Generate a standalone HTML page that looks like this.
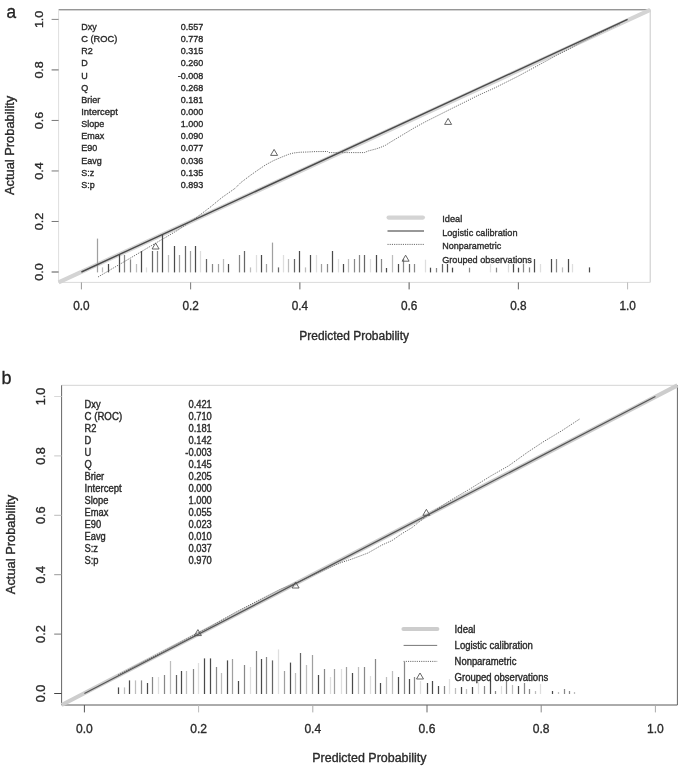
<!DOCTYPE html>
<html><head><meta charset="utf-8"><title>Calibration plots</title>
<style>
html,body{margin:0;padding:0;background:#fff;}
body{width:685px;height:768px;overflow:hidden;}
svg{display:block;filter:blur(0.3px);}
text{font-family:"Liberation Sans", sans-serif;stroke:#2a2a2a;stroke-width:0.35px;}
</style></head>
<body>
<svg width="685" height="768" viewBox="0 0 685 768">
<rect x="0" y="0" width="685" height="768" fill="#fff"/>
<line x1="58.60" y1="9.80" x2="650.20" y2="9.80" stroke="#6a6a6a" stroke-width="1"/>
<line x1="650.20" y1="9.80" x2="650.20" y2="282.40" stroke="#c8c8c8" stroke-width="1"/>
<line x1="58.60" y1="282.40" x2="650.20" y2="282.40" stroke="#dadada" stroke-width="1"/>
<line x1="58.60" y1="9.80" x2="58.60" y2="282.40" stroke="#dedede" stroke-width="1"/>
<line x1="58.60" y1="282.40" x2="650.20" y2="9.80" stroke="#d4d4d4" stroke-width="4.2"/>
<line x1="97.50" y1="272.40" x2="97.50" y2="238.60" stroke="#a0a0a0" stroke-width="1.25"/>
<line x1="102.50" y1="272.40" x2="102.50" y2="267.40" stroke="#bdbdbd" stroke-width="1.25"/>
<line x1="108.50" y1="272.40" x2="108.50" y2="264.00" stroke="#4a4a4a" stroke-width="1.25"/>
<line x1="119.50" y1="272.40" x2="119.50" y2="254.60" stroke="#4a4a4a" stroke-width="1.25"/>
<line x1="124.50" y1="272.40" x2="124.50" y2="255.00" stroke="#888" stroke-width="1.25"/>
<line x1="130.50" y1="272.40" x2="130.50" y2="259.40" stroke="#888" stroke-width="1.25"/>
<line x1="136.50" y1="272.40" x2="136.50" y2="264.00" stroke="#bdbdbd" stroke-width="1.25"/>
<line x1="141.50" y1="272.40" x2="141.50" y2="251.00" stroke="#4a4a4a" stroke-width="1.25"/>
<line x1="146.50" y1="272.40" x2="146.50" y2="267.40" stroke="#dedede" stroke-width="1.25"/>
<line x1="152.50" y1="272.40" x2="152.50" y2="251.00" stroke="#666" stroke-width="1.25"/>
<line x1="157.50" y1="272.40" x2="157.50" y2="251.00" stroke="#888" stroke-width="1.25"/>
<line x1="162.50" y1="272.40" x2="162.50" y2="234.00" stroke="#4a4a4a" stroke-width="1.25"/>
<line x1="168.50" y1="272.40" x2="168.50" y2="255.00" stroke="#bdbdbd" stroke-width="1.25"/>
<line x1="174.50" y1="272.40" x2="174.50" y2="246.00" stroke="#4a4a4a" stroke-width="1.25"/>
<line x1="179.50" y1="272.40" x2="179.50" y2="255.00" stroke="#a0a0a0" stroke-width="1.25"/>
<line x1="185.50" y1="272.40" x2="185.50" y2="246.00" stroke="#666" stroke-width="1.25"/>
<line x1="190.50" y1="272.40" x2="190.50" y2="251.00" stroke="#a0a0a0" stroke-width="1.25"/>
<line x1="195.50" y1="272.40" x2="195.50" y2="246.00" stroke="#4a4a4a" stroke-width="1.25"/>
<line x1="200.50" y1="272.40" x2="200.50" y2="251.00" stroke="#dedede" stroke-width="1.25"/>
<line x1="206.50" y1="272.40" x2="206.50" y2="259.00" stroke="#666" stroke-width="1.25"/>
<line x1="212.50" y1="272.40" x2="212.50" y2="264.00" stroke="#888" stroke-width="1.25"/>
<line x1="218.50" y1="272.40" x2="218.50" y2="264.00" stroke="#a0a0a0" stroke-width="1.25"/>
<line x1="223.50" y1="272.40" x2="223.50" y2="259.00" stroke="#bdbdbd" stroke-width="1.25"/>
<line x1="228.50" y1="272.40" x2="228.50" y2="264.00" stroke="#4a4a4a" stroke-width="1.25"/>
<line x1="239.50" y1="272.40" x2="239.50" y2="255.00" stroke="#888" stroke-width="1.25"/>
<line x1="244.50" y1="272.40" x2="244.50" y2="251.00" stroke="#666" stroke-width="1.25"/>
<line x1="250.50" y1="272.40" x2="250.50" y2="267.40" stroke="#bdbdbd" stroke-width="1.25"/>
<line x1="256.50" y1="272.40" x2="256.50" y2="255.00" stroke="#dedede" stroke-width="1.25"/>
<line x1="261.50" y1="272.40" x2="261.50" y2="255.00" stroke="#4a4a4a" stroke-width="1.25"/>
<line x1="266.50" y1="272.40" x2="266.50" y2="264.00" stroke="#a0a0a0" stroke-width="1.25"/>
<line x1="272.50" y1="272.40" x2="272.50" y2="242.60" stroke="#a0a0a0" stroke-width="1.25"/>
<line x1="278.50" y1="272.40" x2="278.50" y2="267.40" stroke="#666" stroke-width="1.25"/>
<line x1="283.50" y1="272.40" x2="283.50" y2="255.00" stroke="#dedede" stroke-width="1.25"/>
<line x1="288.50" y1="272.40" x2="288.50" y2="259.00" stroke="#bdbdbd" stroke-width="1.25"/>
<line x1="294.50" y1="272.40" x2="294.50" y2="259.00" stroke="#666" stroke-width="1.25"/>
<line x1="299.50" y1="272.40" x2="299.50" y2="251.00" stroke="#4a4a4a" stroke-width="1.25"/>
<line x1="305.50" y1="272.40" x2="305.50" y2="267.40" stroke="#bdbdbd" stroke-width="1.25"/>
<line x1="310.50" y1="272.40" x2="310.50" y2="255.00" stroke="#4a4a4a" stroke-width="1.25"/>
<line x1="316.50" y1="272.40" x2="316.50" y2="255.00" stroke="#dedede" stroke-width="1.25"/>
<line x1="321.50" y1="272.40" x2="321.50" y2="264.00" stroke="#a0a0a0" stroke-width="1.25"/>
<line x1="327.50" y1="272.40" x2="327.50" y2="264.00" stroke="#888" stroke-width="1.25"/>
<line x1="332.50" y1="272.40" x2="332.50" y2="251.00" stroke="#4a4a4a" stroke-width="1.25"/>
<line x1="338.50" y1="272.40" x2="338.50" y2="259.00" stroke="#dedede" stroke-width="1.25"/>
<line x1="343.50" y1="272.40" x2="343.50" y2="264.00" stroke="#4a4a4a" stroke-width="1.25"/>
<line x1="348.50" y1="272.40" x2="348.50" y2="259.00" stroke="#bdbdbd" stroke-width="1.25"/>
<line x1="354.50" y1="272.40" x2="354.50" y2="259.00" stroke="#888" stroke-width="1.25"/>
<line x1="359.50" y1="272.40" x2="359.50" y2="255.00" stroke="#888" stroke-width="1.25"/>
<line x1="364.50" y1="272.40" x2="364.50" y2="255.00" stroke="#666" stroke-width="1.25"/>
<line x1="370.50" y1="272.40" x2="370.50" y2="259.00" stroke="#dedede" stroke-width="1.25"/>
<line x1="376.50" y1="272.40" x2="376.50" y2="255.00" stroke="#4a4a4a" stroke-width="1.25"/>
<line x1="381.50" y1="272.40" x2="381.50" y2="259.00" stroke="#888" stroke-width="1.25"/>
<line x1="386.50" y1="272.40" x2="386.50" y2="268.00" stroke="#4a4a4a" stroke-width="1.25"/>
<line x1="392.50" y1="272.40" x2="392.50" y2="255.00" stroke="#bdbdbd" stroke-width="1.25"/>
<line x1="398.50" y1="272.40" x2="398.50" y2="264.00" stroke="#4a4a4a" stroke-width="1.25"/>
<line x1="403.50" y1="272.40" x2="403.50" y2="259.00" stroke="#888" stroke-width="1.25"/>
<line x1="409.50" y1="272.40" x2="409.50" y2="264.00" stroke="#666" stroke-width="1.25"/>
<line x1="414.50" y1="272.40" x2="414.50" y2="264.00" stroke="#888" stroke-width="1.25"/>
<line x1="425.50" y1="272.40" x2="425.50" y2="259.70" stroke="#dedede" stroke-width="1.25"/>
<line x1="430.50" y1="272.40" x2="430.50" y2="267.70" stroke="#4a4a4a" stroke-width="1.25"/>
<line x1="436.50" y1="272.40" x2="436.50" y2="268.00" stroke="#888" stroke-width="1.25"/>
<line x1="442.50" y1="272.40" x2="442.50" y2="264.00" stroke="#666" stroke-width="1.25"/>
<line x1="447.50" y1="272.40" x2="447.50" y2="264.00" stroke="#4a4a4a" stroke-width="1.25"/>
<line x1="452.50" y1="272.40" x2="452.50" y2="267.70" stroke="#4a4a4a" stroke-width="1.25"/>
<line x1="469.50" y1="272.40" x2="469.50" y2="267.70" stroke="#888" stroke-width="1.25"/>
<line x1="490.50" y1="272.40" x2="490.50" y2="264.00" stroke="#dedede" stroke-width="1.25"/>
<line x1="496.50" y1="272.40" x2="496.50" y2="267.70" stroke="#888" stroke-width="1.25"/>
<line x1="508.50" y1="272.40" x2="508.50" y2="264.00" stroke="#dedede" stroke-width="1.25"/>
<line x1="513.50" y1="272.40" x2="513.50" y2="264.00" stroke="#4a4a4a" stroke-width="1.25"/>
<line x1="518.50" y1="272.40" x2="518.50" y2="267.70" stroke="#4a4a4a" stroke-width="1.25"/>
<line x1="523.50" y1="272.40" x2="523.50" y2="264.00" stroke="#888" stroke-width="1.25"/>
<line x1="529.50" y1="272.40" x2="529.50" y2="267.40" stroke="#888" stroke-width="1.25"/>
<line x1="534.50" y1="272.40" x2="534.50" y2="259.00" stroke="#4a4a4a" stroke-width="1.25"/>
<line x1="540.50" y1="272.40" x2="540.50" y2="264.00" stroke="#dedede" stroke-width="1.25"/>
<line x1="551.50" y1="272.40" x2="551.50" y2="259.00" stroke="#4a4a4a" stroke-width="1.25"/>
<line x1="556.50" y1="272.40" x2="556.50" y2="259.00" stroke="#888" stroke-width="1.25"/>
<line x1="562.50" y1="272.40" x2="562.50" y2="267.40" stroke="#bdbdbd" stroke-width="1.25"/>
<line x1="568.50" y1="272.40" x2="568.50" y2="259.00" stroke="#4a4a4a" stroke-width="1.25"/>
<line x1="572.50" y1="272.40" x2="572.50" y2="264.00" stroke="#dedede" stroke-width="1.25"/>
<line x1="589.50" y1="272.40" x2="589.50" y2="267.40" stroke="#4a4a4a" stroke-width="1.25"/>
<line x1="81.40" y1="272.00" x2="627.60" y2="19.40" stroke="#4a4a4a" stroke-width="1.4"/>
<polyline points="98.00,277.00 130.00,258.30 161.70,239.60 164.70,237.90 177.60,230.30 195.10,218.50 209.20,208.00 222.00,197.50 235.00,188.40 240.80,182.60 250.20,175.50 258.40,169.70 265.40,165.00 273.50,160.60 281.70,157.10 288.70,154.30 293.40,153.00 300.40,152.20 307.40,152.00 315.00,151.60 327.50,151.50 329.00,152.60 364.30,152.60 368.40,150.90 375.40,149.10 380.00,147.60 385.30,145.40 390.00,142.40 402.50,134.90 414.20,127.90 425.90,121.50 439.90,114.50 451.60,108.60 465.00,102.00 477.50,95.70 495.00,87.80 517.80,76.40 538.80,65.00 556.40,55.40 568.60,49.30 580.00,43.00 600.00,33.20 620.00,23.80" fill="none" stroke="#606060" stroke-width="0.95" stroke-dasharray="1.1,1.1" stroke-linejoin="round"/>
<polygon points="155.60,243.00 152.10,249.00 159.10,249.00" fill="none" stroke="#555" stroke-width="0.9" stroke-linejoin="miter"/>
<polygon points="274.10,149.40 270.60,155.40 277.60,155.40" fill="none" stroke="#555" stroke-width="0.9" stroke-linejoin="miter"/>
<polygon points="448.10,118.40 444.60,124.40 451.60,124.40" fill="none" stroke="#555" stroke-width="0.9" stroke-linejoin="miter"/>
<line x1="81.40" y1="282.40" x2="81.40" y2="289.40" stroke="#999" stroke-width="1"/>
<line x1="51.60" y1="272.00" x2="58.60" y2="272.00" stroke="#555" stroke-width="1"/>
<text x="81.40" y="309.70" font-size="12.9" fill="#2a2a2a" text-anchor="middle" textLength="16.40" lengthAdjust="spacingAndGlyphs">0.0</text>
<text x="0" y="0" font-size="11.4" fill="#2a2a2a" text-anchor="middle" textLength="17.40" lengthAdjust="spacingAndGlyphs" transform="translate(43.00,272.00) rotate(-90)">0.0</text>
<line x1="190.64" y1="282.40" x2="190.64" y2="289.40" stroke="#777" stroke-width="1"/>
<line x1="51.60" y1="221.48" x2="58.60" y2="221.48" stroke="#777" stroke-width="1"/>
<text x="190.64" y="309.70" font-size="12.9" fill="#2a2a2a" text-anchor="middle" textLength="16.40" lengthAdjust="spacingAndGlyphs">0.2</text>
<text x="0" y="0" font-size="11.4" fill="#2a2a2a" text-anchor="middle" textLength="17.40" lengthAdjust="spacingAndGlyphs" transform="translate(43.00,221.48) rotate(-90)">0.2</text>
<line x1="299.88" y1="282.40" x2="299.88" y2="289.40" stroke="#666" stroke-width="1"/>
<line x1="51.60" y1="170.96" x2="58.60" y2="170.96" stroke="#777" stroke-width="1"/>
<text x="299.88" y="309.70" font-size="12.9" fill="#2a2a2a" text-anchor="middle" textLength="16.40" lengthAdjust="spacingAndGlyphs">0.4</text>
<text x="0" y="0" font-size="11.4" fill="#2a2a2a" text-anchor="middle" textLength="17.40" lengthAdjust="spacingAndGlyphs" transform="translate(43.00,170.96) rotate(-90)">0.4</text>
<line x1="409.12" y1="282.40" x2="409.12" y2="289.40" stroke="#555" stroke-width="1"/>
<line x1="51.60" y1="120.44" x2="58.60" y2="120.44" stroke="#777" stroke-width="1"/>
<text x="409.12" y="309.70" font-size="12.9" fill="#2a2a2a" text-anchor="middle" textLength="16.40" lengthAdjust="spacingAndGlyphs">0.6</text>
<text x="0" y="0" font-size="11.4" fill="#2a2a2a" text-anchor="middle" textLength="17.40" lengthAdjust="spacingAndGlyphs" transform="translate(43.00,120.44) rotate(-90)">0.6</text>
<line x1="518.36" y1="282.40" x2="518.36" y2="289.40" stroke="#666" stroke-width="1"/>
<line x1="51.60" y1="69.92" x2="58.60" y2="69.92" stroke="#666" stroke-width="1"/>
<text x="518.36" y="309.70" font-size="12.9" fill="#2a2a2a" text-anchor="middle" textLength="16.40" lengthAdjust="spacingAndGlyphs">0.8</text>
<text x="0" y="0" font-size="11.4" fill="#2a2a2a" text-anchor="middle" textLength="17.40" lengthAdjust="spacingAndGlyphs" transform="translate(43.00,69.92) rotate(-90)">0.8</text>
<line x1="627.60" y1="282.40" x2="627.60" y2="289.40" stroke="#bbb" stroke-width="1"/>
<line x1="51.60" y1="19.40" x2="58.60" y2="19.40" stroke="#888" stroke-width="1"/>
<text x="627.60" y="309.70" font-size="12.9" fill="#2a2a2a" text-anchor="middle" textLength="16.40" lengthAdjust="spacingAndGlyphs">1.0</text>
<text x="0" y="0" font-size="11.4" fill="#2a2a2a" text-anchor="middle" textLength="17.40" lengthAdjust="spacingAndGlyphs" transform="translate(43.00,19.40) rotate(-90)">1.0</text>
<text x="354.20" y="339.80" font-size="12" fill="#2a2a2a" text-anchor="middle" textLength="109.80" lengthAdjust="spacingAndGlyphs">Predicted Probability</text>
<text x="0" y="0" font-size="12" fill="#2a2a2a" text-anchor="middle" textLength="99.30" lengthAdjust="spacingAndGlyphs" transform="translate(14.40,145.40) rotate(-90)">Actual Probability</text>
<text x="6.60" y="17.80" font-size="18.5" fill="#222" textLength="9.60" lengthAdjust="spacingAndGlyphs" style="stroke:#222;stroke-width:0.3px">a</text>
<text x="0" y="0" font-size="9.0" fill="#2a2a2a" transform="translate(81.20,29.90) scale(1,1.04)">Dxy</text>
<text x="0" y="0" font-size="9.0" fill="#2a2a2a" text-anchor="end" transform="translate(203.20,29.90) scale(1,1.04)">0.557</text>
<text x="0" y="0" font-size="9.0" fill="#2a2a2a" textLength="36.10" lengthAdjust="spacingAndGlyphs" transform="translate(81.20,42.05) scale(1,1.04)">C (ROC)</text>
<text x="0" y="0" font-size="9.0" fill="#2a2a2a" text-anchor="end" transform="translate(203.20,42.05) scale(1,1.04)">0.778</text>
<text x="0" y="0" font-size="9.0" fill="#2a2a2a" transform="translate(81.20,54.20) scale(1,1.04)">R2</text>
<text x="0" y="0" font-size="9.0" fill="#2a2a2a" text-anchor="end" transform="translate(203.20,54.20) scale(1,1.04)">0.315</text>
<text x="0" y="0" font-size="9.0" fill="#2a2a2a" transform="translate(81.20,66.35) scale(1,1.04)">D</text>
<text x="0" y="0" font-size="9.0" fill="#2a2a2a" text-anchor="end" transform="translate(203.20,66.35) scale(1,1.04)">0.260</text>
<text x="0" y="0" font-size="9.0" fill="#2a2a2a" transform="translate(81.20,78.50) scale(1,1.04)">U</text>
<text x="0" y="0" font-size="9.0" fill="#2a2a2a" text-anchor="end" transform="translate(203.20,78.50) scale(1,1.04)">-0.008</text>
<text x="0" y="0" font-size="9.0" fill="#2a2a2a" transform="translate(81.20,90.65) scale(1,1.04)">Q</text>
<text x="0" y="0" font-size="9.0" fill="#2a2a2a" text-anchor="end" transform="translate(203.20,90.65) scale(1,1.04)">0.268</text>
<text x="0" y="0" font-size="9.0" fill="#2a2a2a" transform="translate(81.20,102.80) scale(1,1.04)">Brier</text>
<text x="0" y="0" font-size="9.0" fill="#2a2a2a" text-anchor="end" transform="translate(203.20,102.80) scale(1,1.04)">0.181</text>
<text x="0" y="0" font-size="9.0" fill="#2a2a2a" textLength="36.60" lengthAdjust="spacingAndGlyphs" transform="translate(81.20,114.95) scale(1,1.04)">Intercept</text>
<text x="0" y="0" font-size="9.0" fill="#2a2a2a" text-anchor="end" transform="translate(203.20,114.95) scale(1,1.04)">0.000</text>
<text x="0" y="0" font-size="9.0" fill="#2a2a2a" transform="translate(81.20,127.10) scale(1,1.04)">Slope</text>
<text x="0" y="0" font-size="9.0" fill="#2a2a2a" text-anchor="end" transform="translate(203.20,127.10) scale(1,1.04)">1.000</text>
<text x="0" y="0" font-size="9.0" fill="#2a2a2a" transform="translate(81.20,139.25) scale(1,1.04)">Emax</text>
<text x="0" y="0" font-size="9.0" fill="#2a2a2a" text-anchor="end" transform="translate(203.20,139.25) scale(1,1.04)">0.090</text>
<text x="0" y="0" font-size="9.0" fill="#2a2a2a" transform="translate(81.20,151.40) scale(1,1.04)">E90</text>
<text x="0" y="0" font-size="9.0" fill="#2a2a2a" text-anchor="end" transform="translate(203.20,151.40) scale(1,1.04)">0.077</text>
<text x="0" y="0" font-size="9.0" fill="#2a2a2a" transform="translate(81.20,163.55) scale(1,1.04)">Eavg</text>
<text x="0" y="0" font-size="9.0" fill="#2a2a2a" text-anchor="end" transform="translate(203.20,163.55) scale(1,1.04)">0.036</text>
<text x="0" y="0" font-size="9.0" fill="#2a2a2a" transform="translate(81.20,175.70) scale(1,1.04)">S:z</text>
<text x="0" y="0" font-size="9.0" fill="#2a2a2a" text-anchor="end" transform="translate(203.20,175.70) scale(1,1.04)">0.135</text>
<text x="0" y="0" font-size="9.0" fill="#2a2a2a" transform="translate(81.20,187.85) scale(1,1.04)">S:p</text>
<text x="0" y="0" font-size="9.0" fill="#2a2a2a" text-anchor="end" transform="translate(203.20,187.85) scale(1,1.04)">0.893</text>
<line x1="388.60" y1="217.60" x2="422.90" y2="217.60" stroke="#d4d4d4" stroke-width="4.2" stroke-linecap="round"/>
<line x1="387.50" y1="231.00" x2="424.00" y2="231.00" stroke="#333" stroke-width="1.2"/>
<line x1="387.50" y1="244.40" x2="424.00" y2="244.40" stroke="#606060" stroke-width="0.95" stroke-dasharray="1.1,1.1"/>
<polygon points="405.60,255.20 402.10,261.20 409.10,261.20" fill="none" stroke="#555" stroke-width="0.9" stroke-linejoin="miter"/>
<text x="442.20" y="221.80" font-size="9.9" fill="#2a2a2a" textLength="20.00" lengthAdjust="spacingAndGlyphs">Ideal</text>
<text x="442.20" y="235.50" font-size="9.9" fill="#2a2a2a" textLength="75.30" lengthAdjust="spacingAndGlyphs">Logistic calibration</text>
<text x="442.20" y="249.10" font-size="9.9" fill="#2a2a2a" textLength="59.10" lengthAdjust="spacingAndGlyphs">Nonparametric</text>
<text x="442.20" y="262.70" font-size="9.9" fill="#2a2a2a" textLength="89.70" lengthAdjust="spacingAndGlyphs">Grouped observations</text>
<line x1="61.60" y1="385.30" x2="677.40" y2="385.30" stroke="#d4d4d4" stroke-width="1"/>
<line x1="677.40" y1="385.30" x2="677.40" y2="705.00" stroke="#666666" stroke-width="1"/>
<line x1="61.60" y1="705.00" x2="677.40" y2="705.00" stroke="#585858" stroke-width="1"/>
<line x1="61.60" y1="385.30" x2="61.60" y2="705.00" stroke="#666666" stroke-width="1"/>
<line x1="61.60" y1="705.00" x2="677.40" y2="385.30" stroke="#cdcdcd" stroke-width="4.2"/>
<line x1="118.50" y1="694.00" x2="118.50" y2="687.40" stroke="#4a4a4a" stroke-width="1.25"/>
<line x1="124.50" y1="694.00" x2="124.50" y2="687.40" stroke="#bdbdbd" stroke-width="1.25"/>
<line x1="129.50" y1="694.00" x2="129.50" y2="680.40" stroke="#4a4a4a" stroke-width="1.25"/>
<line x1="135.50" y1="694.00" x2="135.50" y2="680.40" stroke="#bdbdbd" stroke-width="1.25"/>
<line x1="141.50" y1="694.00" x2="141.50" y2="680.40" stroke="#888" stroke-width="1.25"/>
<line x1="147.50" y1="694.00" x2="147.50" y2="683.00" stroke="#4a4a4a" stroke-width="1.25"/>
<line x1="152.50" y1="694.00" x2="152.50" y2="677.00" stroke="#888" stroke-width="1.25"/>
<line x1="158.50" y1="694.00" x2="158.50" y2="677.00" stroke="#dedede" stroke-width="1.25"/>
<line x1="164.50" y1="694.00" x2="164.50" y2="675.00" stroke="#888" stroke-width="1.25"/>
<line x1="170.50" y1="694.00" x2="170.50" y2="661.00" stroke="#bdbdbd" stroke-width="1.25"/>
<line x1="176.50" y1="694.00" x2="176.50" y2="675.00" stroke="#666" stroke-width="1.25"/>
<line x1="181.50" y1="694.00" x2="181.50" y2="671.00" stroke="#4a4a4a" stroke-width="1.25"/>
<line x1="186.50" y1="694.00" x2="186.50" y2="671.00" stroke="#bdbdbd" stroke-width="1.25"/>
<line x1="193.50" y1="694.00" x2="193.50" y2="669.00" stroke="#888" stroke-width="1.25"/>
<line x1="198.50" y1="694.00" x2="198.50" y2="663.00" stroke="#dedede" stroke-width="1.25"/>
<line x1="204.50" y1="694.00" x2="204.50" y2="658.40" stroke="#4a4a4a" stroke-width="1.25"/>
<line x1="210.50" y1="694.00" x2="210.50" y2="658.40" stroke="#4a4a4a" stroke-width="1.25"/>
<line x1="216.50" y1="694.00" x2="216.50" y2="667.00" stroke="#888" stroke-width="1.25"/>
<line x1="221.50" y1="694.00" x2="221.50" y2="673.00" stroke="#bdbdbd" stroke-width="1.25"/>
<line x1="227.50" y1="694.00" x2="227.50" y2="660.40" stroke="#4a4a4a" stroke-width="1.25"/>
<line x1="232.50" y1="694.00" x2="232.50" y2="659.00" stroke="#a0a0a0" stroke-width="1.25"/>
<line x1="238.50" y1="694.00" x2="238.50" y2="681.00" stroke="#4a4a4a" stroke-width="1.25"/>
<line x1="244.50" y1="694.00" x2="244.50" y2="665.00" stroke="#888" stroke-width="1.25"/>
<line x1="250.50" y1="694.00" x2="250.50" y2="667.00" stroke="#dedede" stroke-width="1.25"/>
<line x1="256.50" y1="694.00" x2="256.50" y2="651.00" stroke="#888" stroke-width="1.25"/>
<line x1="261.50" y1="694.00" x2="261.50" y2="659.00" stroke="#4a4a4a" stroke-width="1.25"/>
<line x1="266.50" y1="694.00" x2="266.50" y2="657.00" stroke="#888" stroke-width="1.25"/>
<line x1="272.50" y1="694.00" x2="272.50" y2="660.40" stroke="#666" stroke-width="1.25"/>
<line x1="278.50" y1="694.00" x2="278.50" y2="649.40" stroke="#dedede" stroke-width="1.25"/>
<line x1="284.50" y1="694.00" x2="284.50" y2="671.00" stroke="#a0a0a0" stroke-width="1.25"/>
<line x1="290.50" y1="694.00" x2="290.50" y2="662.60" stroke="#4a4a4a" stroke-width="1.25"/>
<line x1="295.50" y1="694.00" x2="295.50" y2="673.00" stroke="#bdbdbd" stroke-width="1.25"/>
<line x1="300.50" y1="694.00" x2="300.50" y2="653.00" stroke="#666" stroke-width="1.25"/>
<line x1="306.50" y1="694.00" x2="306.50" y2="665.00" stroke="#bdbdbd" stroke-width="1.25"/>
<line x1="312.50" y1="694.00" x2="312.50" y2="655.00" stroke="#a0a0a0" stroke-width="1.25"/>
<line x1="318.50" y1="694.00" x2="318.50" y2="675.00" stroke="#4a4a4a" stroke-width="1.25"/>
<line x1="324.50" y1="694.00" x2="324.50" y2="669.00" stroke="#888" stroke-width="1.25"/>
<line x1="330.50" y1="694.00" x2="330.50" y2="677.00" stroke="#dedede" stroke-width="1.25"/>
<line x1="334.50" y1="694.00" x2="334.50" y2="669.00" stroke="#a0a0a0" stroke-width="1.25"/>
<line x1="341.50" y1="694.00" x2="341.50" y2="669.00" stroke="#dedede" stroke-width="1.25"/>
<line x1="346.50" y1="694.00" x2="346.50" y2="667.00" stroke="#a0a0a0" stroke-width="1.25"/>
<line x1="352.50" y1="694.00" x2="352.50" y2="673.00" stroke="#4a4a4a" stroke-width="1.25"/>
<line x1="358.50" y1="694.00" x2="358.50" y2="667.00" stroke="#bdbdbd" stroke-width="1.25"/>
<line x1="364.50" y1="694.00" x2="364.50" y2="667.00" stroke="#888" stroke-width="1.25"/>
<line x1="370.50" y1="694.00" x2="370.50" y2="676.00" stroke="#dedede" stroke-width="1.25"/>
<line x1="375.50" y1="694.00" x2="375.50" y2="659.00" stroke="#888" stroke-width="1.25"/>
<line x1="380.50" y1="694.00" x2="380.50" y2="683.00" stroke="#4a4a4a" stroke-width="1.25"/>
<line x1="386.50" y1="694.00" x2="386.50" y2="677.00" stroke="#bdbdbd" stroke-width="1.25"/>
<line x1="392.50" y1="694.00" x2="392.50" y2="671.00" stroke="#bdbdbd" stroke-width="1.25"/>
<line x1="398.50" y1="694.00" x2="398.50" y2="677.00" stroke="#4a4a4a" stroke-width="1.25"/>
<line x1="404.50" y1="694.00" x2="404.50" y2="662.00" stroke="#888" stroke-width="1.25"/>
<line x1="409.50" y1="694.00" x2="409.50" y2="679.00" stroke="#4a4a4a" stroke-width="1.25"/>
<line x1="414.50" y1="694.00" x2="414.50" y2="677.00" stroke="#888" stroke-width="1.25"/>
<line x1="420.50" y1="694.00" x2="420.50" y2="681.00" stroke="#dedede" stroke-width="1.25"/>
<line x1="427.50" y1="694.00" x2="427.50" y2="683.00" stroke="#4a4a4a" stroke-width="1.25"/>
<line x1="432.50" y1="694.00" x2="432.50" y2="681.00" stroke="#4a4a4a" stroke-width="1.25"/>
<line x1="438.50" y1="694.00" x2="438.50" y2="686.00" stroke="#4a4a4a" stroke-width="1.25"/>
<line x1="444.50" y1="694.00" x2="444.50" y2="686.00" stroke="#888" stroke-width="1.25"/>
<line x1="449.50" y1="694.00" x2="449.50" y2="679.00" stroke="#dedede" stroke-width="1.25"/>
<line x1="455.50" y1="694.00" x2="455.50" y2="688.00" stroke="#bdbdbd" stroke-width="1.25"/>
<line x1="461.50" y1="694.00" x2="461.50" y2="687.00" stroke="#4a4a4a" stroke-width="1.25"/>
<line x1="466.50" y1="694.00" x2="466.50" y2="689.00" stroke="#bdbdbd" stroke-width="1.25"/>
<line x1="472.50" y1="694.00" x2="472.50" y2="687.00" stroke="#4a4a4a" stroke-width="1.25"/>
<line x1="478.50" y1="694.00" x2="478.50" y2="682.40" stroke="#dedede" stroke-width="1.25"/>
<line x1="484.50" y1="694.00" x2="484.50" y2="686.00" stroke="#888" stroke-width="1.25"/>
<line x1="490.50" y1="694.00" x2="490.50" y2="681.00" stroke="#4a4a4a" stroke-width="1.25"/>
<line x1="495.50" y1="694.00" x2="495.50" y2="691.00" stroke="#888" stroke-width="1.25"/>
<line x1="501.50" y1="694.00" x2="501.50" y2="686.00" stroke="#dedede" stroke-width="1.25"/>
<line x1="506.50" y1="694.00" x2="506.50" y2="681.00" stroke="#888" stroke-width="1.25"/>
<line x1="512.50" y1="694.00" x2="512.50" y2="685.00" stroke="#bdbdbd" stroke-width="1.25"/>
<line x1="518.50" y1="694.00" x2="518.50" y2="686.00" stroke="#4a4a4a" stroke-width="1.25"/>
<line x1="524.50" y1="694.00" x2="524.50" y2="683.00" stroke="#888" stroke-width="1.25"/>
<line x1="529.50" y1="694.00" x2="529.50" y2="689.00" stroke="#888" stroke-width="1.25"/>
<line x1="535.50" y1="694.00" x2="535.50" y2="691.00" stroke="#bdbdbd" stroke-width="1.25"/>
<line x1="540.50" y1="694.00" x2="540.50" y2="684.00" stroke="#dedede" stroke-width="1.25"/>
<line x1="552.50" y1="694.00" x2="552.50" y2="691.00" stroke="#4a4a4a" stroke-width="1.25"/>
<line x1="558.50" y1="694.00" x2="558.50" y2="692.00" stroke="#bdbdbd" stroke-width="1.25"/>
<line x1="564.50" y1="694.00" x2="564.50" y2="689.00" stroke="#888" stroke-width="1.25"/>
<line x1="569.50" y1="694.00" x2="569.50" y2="691.00" stroke="#888" stroke-width="1.25"/>
<line x1="574.50" y1="694.00" x2="574.50" y2="692.00" stroke="#bdbdbd" stroke-width="1.25"/>
<line x1="84.40" y1="693.50" x2="655.40" y2="396.50" stroke="#555555" stroke-width="1.3"/>
<polyline points="118.00,675.00 150.00,658.30 180.00,642.40 210.00,626.80 236.00,612.00 260.00,599.60 280.00,589.40 300.00,581.20 315.00,574.20 328.00,568.20 340.00,563.00 352.00,559.00 368.00,553.00 382.00,545.00 392.00,540.60 402.00,533.60 412.00,527.60 420.00,521.20 430.00,513.60 450.00,500.60 469.40,489.30 490.40,476.20 508.80,465.70 527.20,452.50 543.00,442.00 561.40,431.00 579.80,418.90" fill="none" stroke="#606060" stroke-width="0.95" stroke-dasharray="1.1,1.1" stroke-linejoin="round"/>
<polygon points="197.90,629.60 194.40,635.60 201.40,635.60" fill="none" stroke="#555" stroke-width="0.9" stroke-linejoin="miter"/>
<polygon points="295.60,582.00 292.10,588.00 299.10,588.00" fill="none" stroke="#555" stroke-width="0.9" stroke-linejoin="miter"/>
<polygon points="426.40,509.30 422.90,515.30 429.90,515.30" fill="none" stroke="#555" stroke-width="0.9" stroke-linejoin="miter"/>
<line x1="84.40" y1="705.00" x2="84.40" y2="712.40" stroke="#555" stroke-width="1"/>
<line x1="54.20" y1="693.50" x2="61.60" y2="693.50" stroke="#444" stroke-width="1"/>
<text x="84.40" y="732.80" font-size="13.0" fill="#2a2a2a" text-anchor="middle" textLength="16.80" lengthAdjust="spacingAndGlyphs">0.0</text>
<text x="0" y="0" font-size="12.0" fill="#2a2a2a" text-anchor="middle" textLength="17.60" lengthAdjust="spacingAndGlyphs" transform="translate(44.80,693.50) rotate(-90)">0.0</text>
<line x1="198.60" y1="705.00" x2="198.60" y2="712.40" stroke="#bbb" stroke-width="1"/>
<line x1="54.20" y1="634.10" x2="61.60" y2="634.10" stroke="#777" stroke-width="1"/>
<text x="198.60" y="732.80" font-size="13.0" fill="#2a2a2a" text-anchor="middle" textLength="16.80" lengthAdjust="spacingAndGlyphs">0.2</text>
<text x="0" y="0" font-size="12.0" fill="#2a2a2a" text-anchor="middle" textLength="17.60" lengthAdjust="spacingAndGlyphs" transform="translate(44.80,634.10) rotate(-90)">0.2</text>
<line x1="312.80" y1="705.00" x2="312.80" y2="712.40" stroke="#aaa" stroke-width="1"/>
<line x1="54.20" y1="574.70" x2="61.60" y2="574.70" stroke="#999" stroke-width="1"/>
<text x="312.80" y="732.80" font-size="13.0" fill="#2a2a2a" text-anchor="middle" textLength="16.80" lengthAdjust="spacingAndGlyphs">0.4</text>
<text x="0" y="0" font-size="12.0" fill="#2a2a2a" text-anchor="middle" textLength="17.60" lengthAdjust="spacingAndGlyphs" transform="translate(44.80,574.70) rotate(-90)">0.4</text>
<line x1="427.00" y1="705.00" x2="427.00" y2="712.40" stroke="#666" stroke-width="1"/>
<line x1="54.20" y1="515.30" x2="61.60" y2="515.30" stroke="#bbb" stroke-width="1"/>
<text x="427.00" y="732.80" font-size="13.0" fill="#2a2a2a" text-anchor="middle" textLength="16.80" lengthAdjust="spacingAndGlyphs">0.6</text>
<text x="0" y="0" font-size="12.0" fill="#2a2a2a" text-anchor="middle" textLength="17.60" lengthAdjust="spacingAndGlyphs" transform="translate(44.80,515.30) rotate(-90)">0.6</text>
<line x1="541.20" y1="705.00" x2="541.20" y2="712.40" stroke="#888" stroke-width="1"/>
<line x1="54.20" y1="455.90" x2="61.60" y2="455.90" stroke="#c8c8c8" stroke-width="1"/>
<text x="541.20" y="732.80" font-size="13.0" fill="#2a2a2a" text-anchor="middle" textLength="16.80" lengthAdjust="spacingAndGlyphs">0.8</text>
<text x="0" y="0" font-size="12.0" fill="#2a2a2a" text-anchor="middle" textLength="17.60" lengthAdjust="spacingAndGlyphs" transform="translate(44.80,455.90) rotate(-90)">0.8</text>
<line x1="655.40" y1="705.00" x2="655.40" y2="712.40" stroke="#aaa" stroke-width="1"/>
<line x1="54.20" y1="396.50" x2="61.60" y2="396.50" stroke="#d8d8d8" stroke-width="1"/>
<text x="655.40" y="732.80" font-size="13.0" fill="#2a2a2a" text-anchor="middle" textLength="16.80" lengthAdjust="spacingAndGlyphs">1.0</text>
<text x="0" y="0" font-size="12.0" fill="#2a2a2a" text-anchor="middle" textLength="17.60" lengthAdjust="spacingAndGlyphs" transform="translate(44.80,396.50) rotate(-90)">1.0</text>
<text x="369.40" y="762.00" font-size="12.3" fill="#2a2a2a" text-anchor="middle" textLength="114.20" lengthAdjust="spacingAndGlyphs">Predicted Probability</text>
<text x="0" y="0" font-size="12.3" fill="#2a2a2a" text-anchor="middle" textLength="99.40" lengthAdjust="spacingAndGlyphs" transform="translate(15.30,544.50) rotate(-90)">Actual Probability</text>
<text x="1.60" y="384.00" font-size="18.0" fill="#222" style="stroke:#222;stroke-width:0.3px">b</text>
<text x="0" y="0" font-size="9.35" fill="#2a2a2a" transform="translate(84.50,407.70) scale(1,1.1)">Dxy</text>
<text x="0" y="0" font-size="9.35" fill="#2a2a2a" text-anchor="end" transform="translate(211.80,407.70) scale(1,1.1)">0.421</text>
<text x="0" y="0" font-size="9.35" fill="#2a2a2a" textLength="37.60" lengthAdjust="spacingAndGlyphs" transform="translate(84.50,419.75) scale(1,1.1)">C (ROC)</text>
<text x="0" y="0" font-size="9.35" fill="#2a2a2a" text-anchor="end" transform="translate(211.80,419.75) scale(1,1.1)">0.710</text>
<text x="0" y="0" font-size="9.35" fill="#2a2a2a" transform="translate(84.50,431.80) scale(1,1.1)">R2</text>
<text x="0" y="0" font-size="9.35" fill="#2a2a2a" text-anchor="end" transform="translate(211.80,431.80) scale(1,1.1)">0.181</text>
<text x="0" y="0" font-size="9.35" fill="#2a2a2a" transform="translate(84.50,443.85) scale(1,1.1)">D</text>
<text x="0" y="0" font-size="9.35" fill="#2a2a2a" text-anchor="end" transform="translate(211.80,443.85) scale(1,1.1)">0.142</text>
<text x="0" y="0" font-size="9.35" fill="#2a2a2a" transform="translate(84.50,455.90) scale(1,1.1)">U</text>
<text x="0" y="0" font-size="9.35" fill="#2a2a2a" text-anchor="end" transform="translate(211.80,455.90) scale(1,1.1)">-0.003</text>
<text x="0" y="0" font-size="9.35" fill="#2a2a2a" transform="translate(84.50,467.95) scale(1,1.1)">Q</text>
<text x="0" y="0" font-size="9.35" fill="#2a2a2a" text-anchor="end" transform="translate(211.80,467.95) scale(1,1.1)">0.145</text>
<text x="0" y="0" font-size="9.35" fill="#2a2a2a" transform="translate(84.50,480.00) scale(1,1.1)">Brier</text>
<text x="0" y="0" font-size="9.35" fill="#2a2a2a" text-anchor="end" transform="translate(211.80,480.00) scale(1,1.1)">0.205</text>
<text x="0" y="0" font-size="9.35" fill="#2a2a2a" textLength="37.20" lengthAdjust="spacingAndGlyphs" transform="translate(84.50,492.05) scale(1,1.1)">Intercept</text>
<text x="0" y="0" font-size="9.35" fill="#2a2a2a" text-anchor="end" transform="translate(211.80,492.05) scale(1,1.1)">0.000</text>
<text x="0" y="0" font-size="9.35" fill="#2a2a2a" transform="translate(84.50,504.10) scale(1,1.1)">Slope</text>
<text x="0" y="0" font-size="9.35" fill="#2a2a2a" text-anchor="end" transform="translate(211.80,504.10) scale(1,1.1)">1.000</text>
<text x="0" y="0" font-size="9.35" fill="#2a2a2a" transform="translate(84.50,516.15) scale(1,1.1)">Emax</text>
<text x="0" y="0" font-size="9.35" fill="#2a2a2a" text-anchor="end" transform="translate(211.80,516.15) scale(1,1.1)">0.055</text>
<text x="0" y="0" font-size="9.35" fill="#2a2a2a" transform="translate(84.50,528.20) scale(1,1.1)">E90</text>
<text x="0" y="0" font-size="9.35" fill="#2a2a2a" text-anchor="end" transform="translate(211.80,528.20) scale(1,1.1)">0.023</text>
<text x="0" y="0" font-size="9.35" fill="#2a2a2a" transform="translate(84.50,540.25) scale(1,1.1)">Eavg</text>
<text x="0" y="0" font-size="9.35" fill="#2a2a2a" text-anchor="end" transform="translate(211.80,540.25) scale(1,1.1)">0.010</text>
<text x="0" y="0" font-size="9.35" fill="#2a2a2a" transform="translate(84.50,552.30) scale(1,1.1)">S:z</text>
<text x="0" y="0" font-size="9.35" fill="#2a2a2a" text-anchor="end" transform="translate(211.80,552.30) scale(1,1.1)">0.037</text>
<text x="0" y="0" font-size="9.35" fill="#2a2a2a" transform="translate(84.50,564.35) scale(1,1.1)">S:p</text>
<text x="0" y="0" font-size="9.35" fill="#2a2a2a" text-anchor="end" transform="translate(211.80,564.35) scale(1,1.1)">0.970</text>
<line x1="403.50" y1="629.00" x2="437.30" y2="629.00" stroke="#cdcdcd" stroke-width="4.2" stroke-linecap="round"/>
<line x1="403.60" y1="645.40" x2="437.20" y2="645.40" stroke="#777" stroke-width="1.0"/>
<line x1="403.60" y1="661.40" x2="437.20" y2="661.40" stroke="#606060" stroke-width="0.95" stroke-dasharray="1.1,1.1"/>
<polygon points="420.00,673.00 416.50,679.00 423.50,679.00" fill="none" stroke="#555" stroke-width="0.9" stroke-linejoin="miter"/>
<text x="0" y="0" font-size="9.6" fill="#2a2a2a" textLength="20.90" lengthAdjust="spacingAndGlyphs" transform="translate(454.60,633.30) scale(1,1.05)">Ideal</text>
<text x="0" y="0" font-size="9.6" fill="#2a2a2a" textLength="78.30" lengthAdjust="spacingAndGlyphs" transform="translate(454.60,649.30) scale(1,1.05)">Logistic calibration</text>
<text x="0" y="0" font-size="9.6" fill="#2a2a2a" textLength="61.80" lengthAdjust="spacingAndGlyphs" transform="translate(454.60,665.40) scale(1,1.05)">Nonparametric</text>
<text x="0" y="0" font-size="9.6" fill="#2a2a2a" textLength="93.60" lengthAdjust="spacingAndGlyphs" transform="translate(454.60,681.40) scale(1,1.05)">Grouped observations</text>
</svg>
</body></html>
